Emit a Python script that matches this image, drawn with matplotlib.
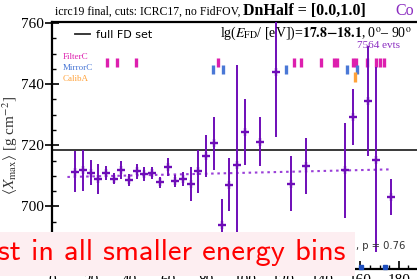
import os
import matplotlib
matplotlib.use("Agg")
import matplotlib.pyplot as plt
from matplotlib.font_manager import FontProperties
from matplotlib.patches import Rectangle
from matplotlib.ticker import MultipleLocator

# bin centres and <Xmax> per bin
bin_x = [12, 16, 20, 24, 28, 32, 36, 40, 44, 48, 52, 56, 60, 64, 68, 72, 76, 80,
         84, 88, 92, 96, 100, 108, 116, 124, 132, 152, 156, 164, 168, 176]
xmax_mean = [711.3, 711.8, 711.0, 709.0, 710.9, 709.1, 711.9, 708.5, 711.4, 710.6,
             710.9, 707.8, 712.9, 708.3, 708.8, 707.3, 711.4, 716.6, 720.6, 693.7,
             707.1, 713.5, 724.4, 721.1, 744.0, 707.4, 713.3, 711.8, 729.2, 734.6,
             715.3, 703.1]
xmax_err = [6.7, 6.8, 4.1, 5.0, 2.2, 1.9, 3.0, 2.0, 2.5, 2.3, 2.0, 1.9, 2.9, 2.1,
            2.3, 5.7, 7.2, 6.9, 8.6, 8.8, 8.8, 32.7, 10.9, 8.0, 21.4, 9.0, 9.2,
            15.5, 9.2, 18.0, 30.3, 6.0]
full_fd_mean = 718.4
fit_x = [8, 176]
fit_y = [709.6, 712.1]

# detector change marks
filter_marks = [28.6, 33.8, 43.6, 86.2, 125.6, 129.3, 139.6, 146.3, 147.9, 156.2,
                157.8, 163.5, 168.2, 170.3, 172.3]
mirror_marks = [83.6, 88.8, 121.5, 153.1, 158.3]
calib_marks = [157.3]
bottom_marks = [160.4, 172.8]

W, H = 417, 279
def fx(px):
    return px / W
def fy(py):
    return 1 - py / H

plt.rcParams["mathtext.fontset"] = "stix"
serif = "Liberation Serif"

fig = plt.figure(figsize=(W / 100, H / 100), dpi=100)
ax = fig.add_axes([fx(52), fy(268.5), 385.4 / W, (268.5 - 21.7) / H])

ax.errorbar(bin_x, xmax_mean, yerr=xmax_err, fmt="+", color="#6e0db8",
            ms=6, mew=1.7, elinewidth=1.4, capsize=0, zorder=4)
ax.plot(fit_x, fit_y, ls=(0, (1.2, 1.8)), color="#9a3fd8", lw=1.5, zorder=3)
fd_line = ax.axhline(full_fd_mean, color="#2a2a2a", lw=1.3, zorder=2)

ax.vlines(filter_marks, 745.6, 748.5, color="#dd1fae", lw=2.4)
ax.vlines(mirror_marks, 743.3, 746.2, color="#4a78d6", lw=2.4)
ax.vlines(calib_marks, 740.7, 743.9, color="#ffa23a", lw=2.4)
ax.plot(bottom_marks, [680.2] * len(bottom_marks), "s", color="#1f4fbf", ms=3,
        clip_on=False, zorder=5)

ax.set_xlim(0, 200)
ax.set_ylim(679.6, 760.5)
ax.yaxis.set_major_locator(MultipleLocator(20))
ax.yaxis.set_minor_locator(MultipleLocator(5))
ax.xaxis.set_major_locator(MultipleLocator(20))
ax.xaxis.set_minor_locator(MultipleLocator(5))
ax.tick_params(axis="y", which="major", direction="inout", length=10, width=1.2,
               pad=1, labelsize=11)
ax.tick_params(axis="y", which="minor", direction="in", length=3, width=1)
ax.tick_params(axis="x", which="major", direction="in", length=6, width=1.2,
               pad=4, labelsize=11)
ax.tick_params(axis="x", which="minor", direction="in", length=3, width=1)
for lab in ax.get_xticklabels() + ax.get_yticklabels():
    lab.set_fontfamily(serif)
ax.spines["right"].set_visible(False)
for s in ["left", "top", "bottom"]:
    ax.spines[s].set_linewidth(1.6)

ax.set_ylabel(r"$\langle X_{\rm max}\rangle$ [g cm$^{-2}$]", fontsize=11,
              fontfamily=serif, color="#333333")
ax.yaxis.set_label_coords(-0.082, 0.5)

ax.legend([fd_line], ["full FD set"], loc="upper left", frameon=False,
          bbox_to_anchor=(0.048, 0.985), handlelength=1.4, handletextpad=0.5,
          borderaxespad=0, prop={"family": "DejaVu Sans", "size": 8})

# header
fig.text(fx(55), fy(12), "icrc19 final, cuts: ICRC17, no FidFOV,", fontsize=8.5,
         fontfamily=serif, va="center", ha="left")
fig.text(fx(243), fy(11), "DnHalf = [0.0,1.0]", fontsize=11.5, fontweight="bold",
         fontfamily=serif, va="center", ha="left")
fig.text(fx(395), fy(11), "Co", fontsize=11.5, fontfamily=serif, color="#8a2bc0",
         va="center", ha="left")
fig.text(fx(412), fy(33),
         r"lg($E_{\rm FD}$/ [eV])=$\mathbf{17.8}$$\mathbf{-}$$\mathbf{18.1}$, 0$^{\rm o}$– 90$^{\rm o}$",
         fontsize=10, fontfamily=serif, va="center", ha="right")
fig.text(fx(357), fy(45), "7564 evts", fontsize=8, fontfamily=serif,
         color="#8a2bc0", va="center", ha="left")
for lbl, col, py in [("FilterC", "#dd1fae", 57), ("MirrorC", "#4a78d6", 68),
                     ("CalibA", "#ffa23a", 79)]:
    fig.text(fx(63), fy(py), lbl, fontsize=6.5, fontfamily=serif, color=col,
             va="center", ha="left")

fig.text(fx(356), fy(246), ", p = 0.76", fontsize=7.2, fontfamily="DejaVu Sans",
         color="#333333", va="center", ha="left")

# overlay banner
fig.add_artist(Rectangle((0, fy(276)), fx(355), fy(232) - fy(276),
                         transform=fig.transFigure, facecolor="#fdeef1",
                         edgecolor="none", zorder=10))
cmss = FontProperties(fname=os.path.join(matplotlib.get_data_path(),
                                         "fonts", "ttf", "cmss10.ttf"), size=22)
fig.text(fx(346), fy(253), "st in all smaller energy bins", fontproperties=cmss,
         color="#ff0000", va="center", ha="right", zorder=11)

fig.savefig("out.png", dpi=100)
